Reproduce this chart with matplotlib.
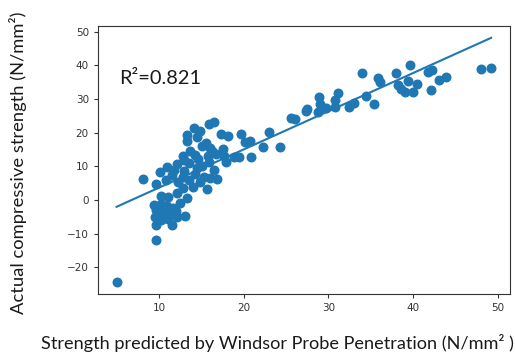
import numpy as np
import matplotlib

matplotlib.use("Agg")
import matplotlib.pyplot as plt

# values
predicted = [
    9.6, 9.7, 11.5, 13.1, 9.4, 10.2, 11.0, 11.6, 9.6, 10.4, 11.2, 12.0, 9.5, 10.3, 11.1, 12.1, 10.0, 10.8,
    12.5, 13.3, 12.1, 10.3, 11.1, 15.7, 12.8, 14.0,
    8.1, 9.7, 10.1, 10.8, 11.5, 12.2, 12.8, 13.5, 14.2, 14.8, 15.3, 16.0, 16.8, 13.0, 11.8,
    10.9, 12.1, 13.5, 14.5, 15.1, 15.9, 17.9, 16.5, 13.0, 14.6,
    13.7, 15.1, 16.3, 16.7, 17.5, 17.7, 18.9, 14.2, 15.8, 16.0, 12.8,
    13.3, 13.3, 14.5, 14.1, 15.9, 16.5, 17.3, 18.1, 19.7, 20.1, 15.5, 14.8,
    19.5, 20.9, 20.7, 22.3, 23.0, 24.3, 25.6, 26.1, 27.5, 27.3, 28.9, 29.0, 28.8, 29.7,
    30.8, 31.1, 30.8, 32.4, 33.0, 34.0, 34.4, 35.4, 35.8, 36.1, 38.0, 38.2, 38.6, 39.0,
    39.6, 39.4, 40.0, 40.4, 41.8, 42.2, 42.1, 43.0, 43.9, 48.0, 49.2, 5.0,
]
actual = [
    -11.8, -7.3, -7.3, -4.7, -1.5, -1.2, -1.8, -2.3, -3.0, -3.5, -3.8, -3.2, -5.0, -5.8, -5.5, -5.0, -4.5, -2.8,
    -0.8, 0.7, 2.2, 1.2, 1.0, 3.2, 3.5, 4.0,
    6.2, 4.7, 8.2, 6.0, 7.5, 5.5, 7.0, 6.0, 7.8, 5.5, 7.0, 6.5, 6.2, 8.5, 8.8,
    9.7, 10.7, 11.0, 9.5, 10.2, 11.2, 11.2, 9.0, 12.0, 12.3,
    14.7, 16.2, 14.7, 13.7, 15.2, 13.2, 12.7, 13.5, 13.0, 15.5, 13.0,
    19.2, 17.7, 18.7, 21.5, 22.7, 23.1, 19.5, 18.9, 19.5, 17.2, 17.0, 20.5,
    12.7, 12.9, 17.5, 15.7, 20.2, 15.7, 24.3, 24.2, 27.2, 26.6, 30.6, 28.6, 26.1, 27.5,
    29.6, 31.8, 27.6, 27.6, 28.8, 37.9, 30.9, 28.6, 36.4, 35.1, 37.8, 34.3, 33.1, 32.1,
    40.2, 35.3, 32.1, 34.6, 38.1, 38.6, 32.6, 35.6, 36.6, 38.9, 39.4, -24.3,
]
fit_slope = 1.136
fit_intercept = -7.67
r_squared = 0.821

x = np.array(predicted)
y = np.array(actual)

fig = plt.figure(figsize=(5.15, 3.56), dpi=100)
ax = fig.add_axes([0.19, 0.174, 0.80, 0.754])

ax.scatter(x, y, s=38, color="#1f77b4", zorder=2)
line_x = np.array([x.min(), x.max()])
ax.plot(line_x, fit_slope * line_x + fit_intercept, color="#1f77b4", lw=1.5)

ax.set_yticks([-20, -10, 0, 10, 20, 30, 40, 50])
ax.set_xticks([10, 20, 30, 40, 50])
ax.tick_params(labelsize=7.5, length=3, width=0.8, colors="#333333")
for s in ax.spines.values():
    s.set_color("#333333")
    s.set_linewidth(0.8)

label_font = "Lato"
text_color = "#1a1a1a"
fig.text(119 / 515, 1 - 84 / 356, f"R\u00b2={r_squared}", fontsize=14.4,
         family=label_font, va="baseline", ha="left", color=text_color)
fig.text(277.5 / 515, 1 - 343 / 356, "Strength predicted by Windsor Probe Penetration (N/mm\u00b2 )",
         fontsize=13.1, family=label_font, ha="center", va="center", color=text_color)
fig.text(18 / 515, 1 - 163 / 356, "Actual compressive strength (N/mm\u00b2)",
         fontsize=13.2, family=label_font, rotation=90, ha="center", va="center", color=text_color)

fig.savefig("out.png", dpi=100)
plt.close(fig)
